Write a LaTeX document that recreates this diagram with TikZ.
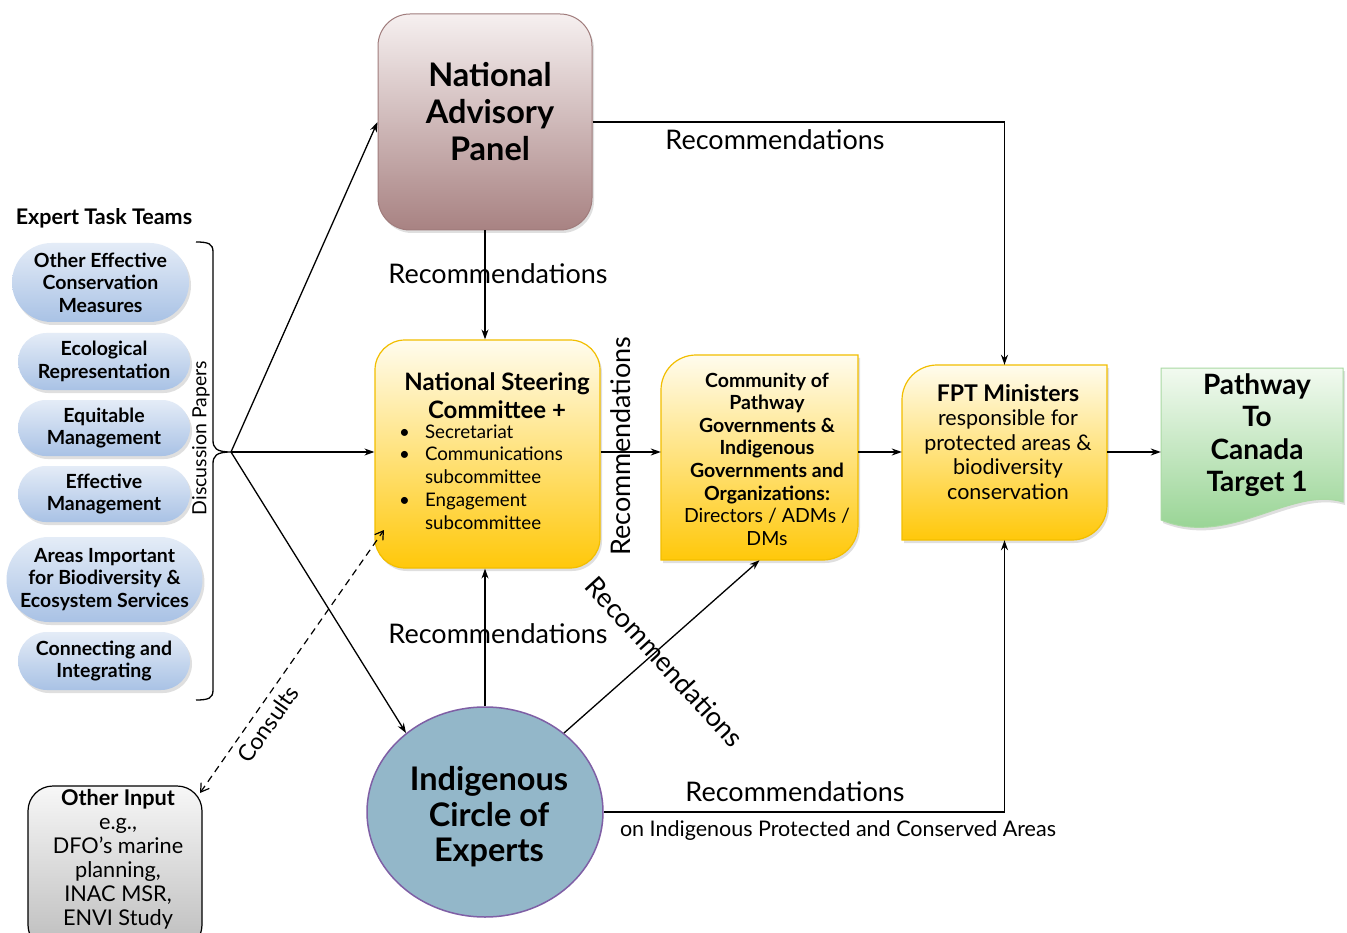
\documentclass[tikz,border=0pt]{standalone}
\usepackage{fontspec}
\setmainfont{Lato}
\usetikzlibrary{arrows.meta,shapes.misc,shapes.geometric,shadows,calc}
\definecolor{napTop}{HTML}{F6F0F0}
\definecolor{napBot}{HTML}{A88282}
\definecolor{napLine}{HTML}{A07C7C}
\definecolor{ylTop}{HTML}{FFFCEE}
\definecolor{ylMid}{HTML}{FFE27A}
\definecolor{ylBot}{HTML}{FFC80A}
\definecolor{ylLine}{HTML}{F2BE00}
\definecolor{grTop}{HTML}{F2FAF0}
\definecolor{grBot}{HTML}{8ED08A}
\definecolor{grLine}{HTML}{A9D9A3}
\definecolor{pillTop}{HTML}{E4ECF7}
\definecolor{pillBot}{HTML}{A9C2E5}
\definecolor{gyTop}{HTML}{F7F7F7}
\definecolor{gyBot}{HTML}{BDBDBD}
\definecolor{iceFill}{HTML}{93B7C9}
\definecolor{iceLine}{HTML}{7F5FA5}
\newcommand{\fsz}[2]{\fontsize{#1}{#2}\selectfont}
\begin{document}
\begin{tikzpicture}[x=1pt,y=-1pt,
  arr/.style={draw=black, line width=1.3pt, -{Stealth[length=10pt,width=7pt]}},
  dsh/.style={draw=black, line width=1.2pt, dashed, dash pattern=on 7pt off 5pt, {Straight Barb[length=8pt,width=10pt]}-{Straight Barb[length=8pt,width=10pt]}},
  lbl/.style={font=\fsz{27}{30}, inner sep=0pt},
  shd/.style={drop shadow={shadow xshift=2pt, shadow yshift=-3pt, opacity=0.25}},
  pill/.style={rounded rectangle, top color=pillTop, bottom color=pillBot, draw=none, font=\bfseries\fsz{19.5}{22.5}, align=center, inner sep=0pt, shd},
  napbox/.style={rectangle, rounded corners=32pt, top color=napTop, bottom color=napBot, draw=napLine, line width=1pt, shd},
  ylbox/.style={top color=ylTop, middle color=ylMid, bottom color=ylBot, draw=ylLine, line width=1.2pt, shd},
  grbox/.style={top color=grTop, bottom color=grBot, draw=grLine, line width=1pt, shd},
  gybox/.style={rectangle, rounded corners=25pt, top color=gyTop, bottom color=gyBot, draw=black, line width=1.2pt},
  ghost/.style={rectangle, inner sep=0pt, draw=none},
  txt/.style={align=center, inner sep=0pt}
]
\useasboundingbox[fill=white] (0,0) rectangle (1347,933);

% ---------- Expert task teams ----------
\node[font=\bfseries\fsz{21.5}{23}, inner sep=0pt] (ett) at (104,218) {Expert Task Teams};
\node[pill, minimum width=177pt, minimum height=79pt] (p1) at (100.5,282.5) {Other Effective\\Conservation\\Measures};
\node[pill, minimum width=172pt, minimum height=57pt] (p2) at (104,361.5) {Ecological\\Representation};
\node[pill, minimum width=172pt, minimum height=56pt] (p3) at (104,428) {Equitable\\Management};
\node[pill, minimum width=172pt, minimum height=56pt] (p4) at (104,494) {Effective\\Management};
\node[pill, minimum width=185pt, minimum height=85pt] (p5) at (104.5,579.5) {Areas Important\\for Biodiversity \&\\Ecosystem Services};
\node[pill, minimum width=172pt, minimum height=58pt] (p6) at (104,661) {Connecting and\\Integrating};

% brace
\coordinate (bt) at (231,452);
\draw[line width=1.3pt] (196,242) .. controls (209,242) and (213,244) .. (213,252) -- (213,440)
  .. controls (213,448) and (216,452) .. (bt)
  .. controls (216,452) and (213,456) .. (213,464) -- (213,690)
  .. controls (213,698) and (209,700) .. (196,700);
\node[font=\fsz{19.5}{22}, rotate=90, inner sep=0pt] (dp) at (201,438) {Discussion Papers};

% ---------- main boxes ----------
\node[napbox, minimum width=214pt, minimum height=216pt] (nap) at (485,122) {};
\node[txt, font=\bfseries\fsz{32.5}{37}] (napt) at (490,112) {National\\Advisory\\Panel};

\node[ylbox, rectangle, rounded corners=30pt, minimum width=225pt, minimum height=228pt] (nsc) at (487.5,454) {};
\node[txt, font=\bfseries\fsz{24}{28}] (nsct) at (497,396) {National Steering\\Committee +};
\node[anchor=north west, inner sep=0pt, font=\fsz{18.7}{22.8}] (nscl) at (399,422)
  {\begin{tabular}{@{}l@{\hspace{15pt}}l@{}}\textbullet & Secretariat\\ \textbullet & Communications\\ & subcommittee\\ \textbullet & Engagement\\ & subcommittee\end{tabular}};

\path[ylbox] (696,355) -- (858,355) -- (858,525) arc[start angle=0,end angle=90,radius=35] -- (661,560) -- (661,390) arc[start angle=180,end angle=270,radius=35] -- cycle;
\node[ghost, minimum width=197pt, minimum height=205pt] (comm) at (759.5,457.5) {};
\node[txt, font=\fsz{19.5}{22.6}] (commt) at (767,459) {\bfseries Community of\\\bfseries Pathway\\\bfseries Governments \&\\\bfseries Indigenous\\\bfseries Governments and\\\bfseries Organizations:\\Directors / ADMs /\\DMs};

\path[ylbox] (937,365) -- (1107,365) -- (1107,505) arc[start angle=0,end angle=90,radius=35] -- (902,540) -- (902,400) arc[start angle=180,end angle=270,radius=35] -- cycle;
\node[ghost, minimum width=205pt, minimum height=175pt] (fpt) at (1004.5,452.5) {};
\node[txt, font=\fsz{21.5}{24.5}] (fptt) at (1008,442) {{\bfseries\fsz{23}{24.5}FPT Ministers}\\responsible for\\protected areas \&\\biodiversity\\conservation};

\path[grbox] (1161,368) -- (1343,368) -- (1343,502) .. controls (1290,486) and (1230,548) .. (1161,520) -- cycle;
\node[ghost, minimum width=182pt, minimum height=162pt] (pw) at (1252,449) {};
\node[txt, font=\bfseries\fsz{28}{32.3}] (pwt) at (1257,435) {Pathway\\To\\Canada\\Target 1};

\node[ellipse, minimum width=236pt, minimum height=210pt, fill=iceFill, draw=iceLine, line width=1.5pt, inner sep=0pt] (ice) at (485,812) {};
\node[txt, font=\bfseries\fsz{32.5}{35.5}] (icet) at (489,817) {Indigenous\\Circle of\\Experts};

\node[gybox, minimum width=174pt, minimum height=164pt] (oth) at (115,868) {};
\node[txt, font=\fsz{21.7}{24}] (otht) at (118,859) {{\bfseries Other Input}\\e.g.,\\DFO’s marine\\planning,\\INAC MSR,\\ENVI Study};

% ---------- connectors ----------
\draw[arr] (bt) -- (nap.west);
\draw[arr] (bt) -- (nsc.west |- bt);
\draw[arr] (bt) -- (ice.135);

\draw[arr] (nap.east) -| (fpt.north);
\node[lbl] (r1) at (775,140) {Recommendations};
\draw[arr] (nap.south) -- (nap.south |- nsc.north);
\node[lbl] (r2) at (498,274) {Recommendations};

\draw[arr] (nsc.east |- bt) -- (comm.west |- bt);
\node[lbl, rotate=90] (r3) at (621,446) {Recommendations};
\draw[arr] (comm.east |- bt) -- (fpt.west |- bt);
\draw[arr] (fpt.east |- bt) -- (pw.west |- bt);

\draw[arr] (ice.north) -- (ice.north |- nsc.south);
\node[lbl] (r4) at (498,634) {Recommendations};
\draw[arr] (ice.45) -- (comm.south);
\node[lbl, rotate=-47.5] (r5) at (665,662) {Recommendations};
\draw[arr] (ice.east) -| (fpt.south);
\node[lbl] (r6) at (795,792) {Recommendations};
\node[font=\fsz{21.5}{22}, inner sep=0pt] (r6b) at (838,831) {on Indigenous Protected and Conserved Areas};

\coordinate (oc) at (200,793);
\coordinate (nc) at (384,530);
\draw[dsh] (oc) -- (nc);
\node[font=\fsz{23}{24}, rotate=55, inner sep=0pt] (cons) at (268,724) {Consults};
\end{tikzpicture}
\end{document}
